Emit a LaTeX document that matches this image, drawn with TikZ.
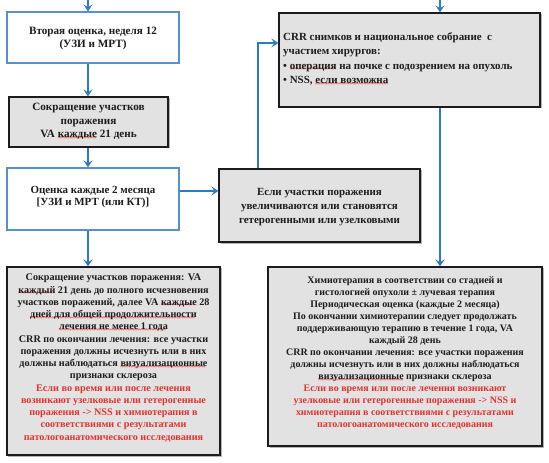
\documentclass[tikz,border=0pt]{standalone}
\usepackage{fontspec}
\setmainfont{Liberation Serif}
\usetikzlibrary{arrows.meta,shadows}
\definecolor{arrblue}{HTML}{2B7BC0}
\definecolor{bordblue}{HTML}{5B8FCB}
\definecolor{boxgray}{HTML}{E2E2E2}
\definecolor{txt}{HTML}{1C1C1C}
\definecolor{redtxt}{HTML}{E5322D}
\newsavebox\sqbox
\newcommand\sqw[1]{\sbox\sqbox{#1}\rlap{\raisebox{-3.6bp}[0pt][0pt]{\textcolor{red}{\hbox to \wd\sqbox{\fontsize{5}{5}\selectfont\mdseries\leaders\hbox{\scalebox{0.9}[2.2]{\char"7E}}\hfill}}}}\usebox\sqbox}
\tikzset{
  wbox/.style={draw=bordblue, fill=white, line width=1.2bp, drop shadow={shadow xshift=1bp, shadow yshift=-1bp, opacity=.25}},
  gbox/.style={draw=txt, fill=boxgray, line width=1.2bp, drop shadow={shadow xshift=1.5bp, shadow yshift=-1.5bp, opacity=.6}},
  lbl/.style={align=center, inner sep=0pt, text=txt},
  arr/.style={draw=arrblue, line width=2bp, -{Stealth[length=7bp,width=9bp,inset=3bp]}},
  fs/.style 2 args={font=\fontsize{#1}{#2}\selectfont\bfseries}
}
\begin{document}
\begin{tikzpicture}[x=1bp,y=-1bp]
\useasboundingbox (0,0) rectangle (549,463);
% boxes
\node[wbox, minimum width=172bp, minimum height=51bp] (b1) at (93,37.5) {};
\node[gbox, minimum width=159bp, minimum height=50bp] (b2) at (88.5,122) {};
\node[wbox, minimum width=172bp, minimum height=62bp] (b3) at (93,199) {};
\node[gbox, minimum width=201bp, minimum height=73bp] (b4) at (319.5,205.5) {};
\node[gbox, minimum width=261bp, minimum height=94bp] (b5) at (409.5,60) {};
\node[gbox, minimum width=213bp, minimum height=188bp] (b6) at (113.5,361) {};
\node[gbox, minimum width=274bp, minimum height=179bp] (b7) at (405,356.5) {};
% texts
\node[lbl, fs={11.2}{12.5}] (b1t) at (93,38.5)
  {Вторая оценка, неделя 12\\(УЗИ и МРТ)};
\node[lbl, fs={11.2}{13.5}] (b2t) at (88.5,121.5)
  {Сокращение участков\\поражения\\VA \sqw{каждые} 21 день};
\node[lbl, fs={11}{12.5}] (b3t) at (93,197)
  {Оценка каждые 2 месяца\\{[}УЗИ и МРТ (или КТ){]}};
\node[lbl, fs={11}{14}] (b4t) at (319.5,207)
  {Если участки поражения\\увеличиваются или становятся\\гетерогенными или узелковыми};
\node[lbl, fs={11}{14.5}, align=left, anchor=west] (b5t) at (283,59)
  {CRR снимков и национальное собрание\ \ с\\участием хирургов:\\• \sqw{операция} на почке с подозрением на опухоль\\• NSS, \sqw{если возможна}};
\node[lbl, fs={10.2}{12.3}] (b6t) at (113.5,358)
  {Сокращение участков поражения: VA\\\sqw{каждый} 21 день до полного исчезновения\\участков поражений, далее VA \sqw{каждые} 28\\\sqw{дней для общей продолжительности}\\\sqw{лечения не менее 1 года}\\CRR по окончании лечения: все участки\\поражения должны исчезнуть или в них\\должны наблюдаться \sqw{визуализационные}\\признаки склероза\\
  \textcolor{redtxt}{Если во время или после лечения}\\\textcolor{redtxt}{возникают узелковые или гетерогенные}\\\textcolor{redtxt}{поражения -> NSS и химиотерапия в}\\\textcolor{redtxt}{соответствиями с результатами}\\\textcolor{redtxt}{патологоанатомического исследования}};
\node[lbl, fs={10}{12.1}] (b7t) at (405,353)
  {Химиотерапия в соответствии со стадией и\\гистологией опухоли ± лучевая терапия\\Периодическая оценка (каждые 2 месяца)\\По окончании химиотерапии следует продолжать\\поддерживающую терапию в течение 1 года, VA\\каждый 28 день\\CRR по окончании лечения: все участки поражения\\должны исчезнуть или в них должны наблюдаться\\\sqw{визуализационные} признаки склероза\\
  \textcolor{redtxt}{Если во время или после лечения возникают}\\\textcolor{redtxt}{узелковые или гетерогенные поражения -> NSS и}\\\textcolor{redtxt}{химиотерапия в соответствиями с результатами}\\\textcolor{redtxt}{патологоанатомического исследования}};
% connectors
\coordinate (t1) at (88,0);
\coordinate (t2) at (440,0);
\coordinate (h) at (0,191);
\coordinate (k) at (258,43);
\draw[arr] (t1) -- (b1.north -| t1);
\draw[arr] (b1.south -| t1) -- (b2.north -| t1);
\draw[arr] (b2.south -| t1) -- (b3.north -| t1);
\draw[arr] (b3.south -| t1) -- (b6.north -| t1);
\draw[arr] (b3.east |- h) -- (b4.west |- h);
\draw[arr] (b4.north -| k) -- (k) -- (b5.west |- k);
\draw[arr] (t2) -- (b5.north -| t2);
\draw[arr] (b5.south -| t2) -- (b7.north -| t2);
\end{tikzpicture}
\end{document}
